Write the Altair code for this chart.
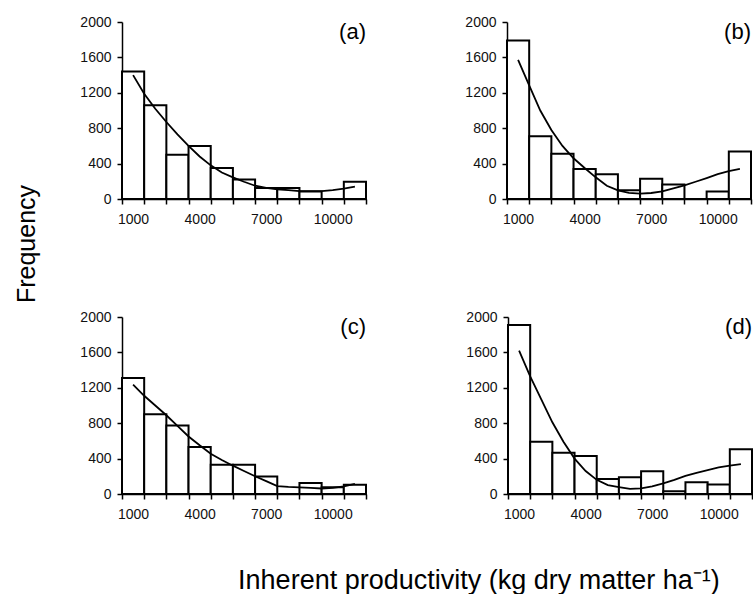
import altair as alt
import pandas as pd

# ---- data ----
bin_centers = [1000, 2000, 3000, 4000, 5000, 6000, 7000, 8000, 9000, 10000, 11000]
freq_a = [1440, 1060, 500, 600, 350, 220, 125, 125, 85, 0, 195]
freq_b = [1790, 710, 510, 340, 280, 100, 230, 165, 0, 85, 537]
freq_c = [1310, 900, 775, 530, 330, 330, 197, 0, 125, 75, 104]
freq_d = [1910, 590, 465, 430, 170, 190, 258, 30, 134, 107, 507]

fit_x = [1000, 1500, 2000, 2500, 3000, 3500, 4000, 4500, 5000, 5500, 6000,
         6500, 7000, 7500, 8000, 8500, 9000, 9500, 10000, 10500, 11000]
fit_a = [1400, 1190, 1020, 870, 730, 600, 480, 380, 300, 245, 195,
         150, 125, 110, 100, 90, 88, 90, 100, 118, 140]
fit_b = [1572, 1285, 1000, 780, 600, 460, 350, 245, 150, 98, 70,
         60, 68, 87, 120, 155, 195, 237, 280, 315, 340]
fit_c = [1235, 1110, 1000, 890, 770, 650, 550, 455, 385, 320, 260,
         200, 145, 90, 80, 75, 70, 62, 70, 86, 115]
fit_d = [1620, 1330, 1070, 810, 590, 400, 260, 160, 100, 78, 58,
         64, 85, 120, 160, 205, 240, 270, 300, 320, 338]

x_tick_labels = [1000, 4000, 7000, 10000]
y_ticks = [0, 400, 800, 1200, 1600, 2000]
x_domain = [500, 11500]
y_domain = [0, 2000]
panel_names = ["(a)", "(b)", "(c)", "(d)"]
y_title = "Frequency"
x_title = "Inherent productivity (kg dry matter ha\u207b\u00b9)"

# ---- styling ----
W, H = 244, 177
FONT = "Liberation Sans"
LABEL_COLOR = "#111111"
label_expr = "indexof([" + ",".join(str(v) for v in x_tick_labels) + "], datum.value) >= 0 ? datum.label : ''"


def y_axis():
    return alt.Axis(title=None, values=y_ticks, format="d", tickSize=5, labelPadding=6)


def panel(freq, fit, name):
    bars_df = pd.DataFrame({"bin": bin_centers, "freq": freq})
    fit_df = pd.DataFrame({"x": fit_x, "y": fit})
    yscale = alt.Scale(domain=y_domain, nice=False)
    bars = alt.Chart(bars_df).mark_bar(
        fill="white", stroke="black", strokeWidth=2
    ).encode(
        x=alt.X("bin:O",
                scale=alt.Scale(paddingInner=0, paddingOuter=0),
                axis=alt.Axis(title=None, tickBand="extent", labelExpr=label_expr,
                              labelAngle=0, tickSize=5, labelPadding=8)),
        y=alt.Y("freq:Q", scale=yscale, axis=y_axis()),
    )
    line = alt.Chart(fit_df).mark_line(color="black", strokeWidth=1.8).encode(
        x=alt.X("x:Q", scale=alt.Scale(domain=x_domain, nice=False, zero=False), axis=None),
        y=alt.Y("y:Q", scale=yscale, axis=y_axis()),
    )
    tag = alt.Chart(pd.DataFrame({"t": [name]})).mark_text(
        align="right", baseline="top", fontSize=22, font=FONT, color="black"
    ).encode(text="t:N", x=alt.value(W), y=alt.value(0))
    return alt.layer(bars, line, tag).resolve_scale(x="independent").properties(width=W, height=H)


pa = panel(freq_a, fit_a, panel_names[0])
pb = panel(freq_b, fit_b, panel_names[1])
pc = panel(freq_c, fit_c, panel_names[2])
pd_ = panel(freq_d, fit_d, panel_names[3])

grid = alt.vconcat(
    alt.hconcat(pa, pb, spacing=97),
    alt.hconcat(pc, pd_, spacing=98),
    spacing=84,
).properties(
    title=alt.TitleParams(y_title, orient="left", anchor="middle", fontSize=25, font=FONT,
                          fontWeight="normal", color="black", offset=40, dx=24)
)

chart = alt.vconcat(grid).properties(
    title=alt.TitleParams(x_title, orient="bottom", anchor="middle", fontSize=27, font=FONT,
                          fontWeight="normal", color="black", offset=47, dx=95),
    padding={"left": 14, "top": 15, "right": 0, "bottom": 0},
).configure_view(stroke=None).configure_axis(
    grid=False, domainColor="black", tickColor="black", domainWidth=1.5, tickWidth=1.5,
    labelColor=LABEL_COLOR, labelFont=FONT, labelFontSize=14,
)

chart.save("out.html", embed_options={"renderer": "svg", "actions": False})
